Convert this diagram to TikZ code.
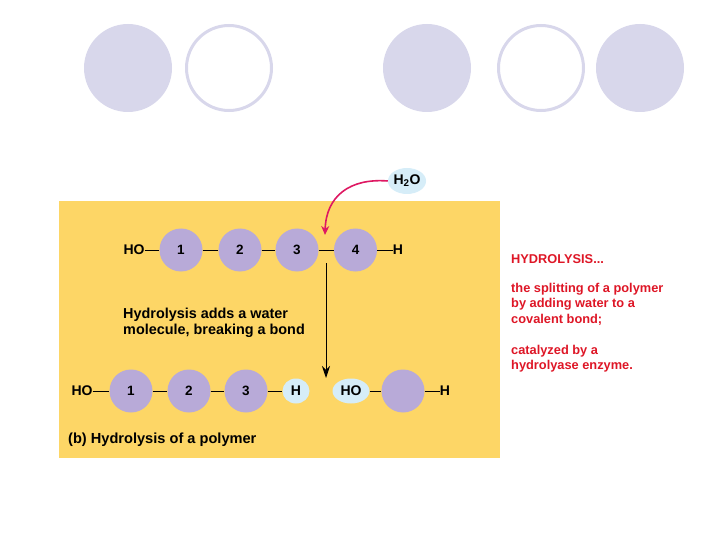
\documentclass[tikz,border=0pt]{standalone}
\usepackage{fontspec}
\setmainfont{Liberation Sans}
\usetikzlibrary{positioning,arrows.meta,shapes.geometric}
\definecolor{deco}{RGB}{216,215,235}
\definecolor{panel}{RGB}{253,214,102}
\definecolor{mono}{RGB}{184,170,216}
\definecolor{water}{RGB}{214,237,248}
\definecolor{redtxt}{RGB}{222,22,38}
\definecolor{pinkarrow}{RGB}{222,24,98}

\tikzset{
  unit/.style={circle, fill=mono, minimum size=43pt, inner sep=0pt, font=\bfseries\fontsize{13.5}{13.5}\selectfont},
  drop/.style={ellipse, fill=water, inner sep=0pt, font=\bfseries\fontsize{14}{14}\selectfont},
  endgrp/.style={inner sep=0pt, font=\bfseries\fontsize{14}{14}\selectfont},
  bond/.style={black, line width=0.9pt},
}

\begin{document}
\begin{tikzpicture}[x=1pt,y=-1pt]
\useasboundingbox (0,0) rectangle (720,540);
% decorative circles
\fill[deco] (128,68) circle (44);
\draw[deco, line width=3pt] (229,68) circle (42.5);
\fill[deco] (427,68) circle (44);
\draw[deco, line width=3pt] (541,68) circle (42.5);
\fill[deco] (640,68) circle (44);
% panel
\fill[panel] (59,201) rectangle (500,458);
% polymer before
\node[endgrp] (ho) at (134,250) {HO};
\node[unit] (a1) at (181,250) {1};
\node[unit] (a2) at (240,250) {2};
\node[unit] (a3) at (297,250) {3};
\node[unit] (a4) at (355.5,250) {4};
\node[endgrp] (h) at (398,250) {H};
\draw[bond] (ho) -- (a1) -- (a2) -- (a3) -- (a4) -- (h);
% water
\node[drop, minimum width=35pt, minimum height=26pt] (wat) at (407,181) {H\textsubscript{2}O};
\coordinate (hit) at (325,235);
\draw[pinkarrow, line width=1.6pt, -{Stealth[length=9pt,width=8pt]}] (wat.west) .. controls (350,178) and (326,196) .. (hit);
% split
\coordinate (cut) at (326,263);
\coordinate (land) at (326,378);
\draw[black, line width=0.9pt, -{Stealth[length=12pt,width=8pt]}] (cut) -- (land);
\node[anchor=north west, align=left, inner sep=0pt, font=\bfseries\fontsize{14.4}{16}\selectfont] (note) at (123,308) {Hydrolysis adds a water\\molecule, breaking a bond};
% polymer after
\node[endgrp] (hob) at (82,391) {HO};
\node[unit] (b1) at (131,391) {1};
\node[unit] (b2) at (189,391) {2};
\node[unit] (b3) at (246,391) {3};
\node[drop, minimum width=27pt, minimum height=25pt] (hb) at (296,391) {H};
\node[drop, minimum width=37pt, minimum height=25pt] (hoc) at (351,391) {HO};
\node[unit] (b4) at (403,391) {};
\node[endgrp] (hc) at (445,391) {H};
\draw[bond] (hob) -- (b1) -- (b2) -- (b3) -- (hb);
\draw[bond] (hoc) -- (b4) -- (hc);
\node[anchor=west, inner sep=0pt, font=\bfseries\fontsize{14.6}{14.6}\selectfont] (cap) at (68,440) {(b) Hydrolysis of a polymer};
% definition
\node[anchor=north west, align=left, inner sep=0pt, text=redtxt, font=\bfseries\fontsize{12.8}{15.5}\selectfont] (defn) at (511,254) {HYDROLYSIS...\\[13.5pt]the splitting of a polymer\\by adding water to a\\covalent bond;\\[15.5pt]catalyzed by a\\hydrolyase enzyme.};
\end{tikzpicture}
\end{document}
